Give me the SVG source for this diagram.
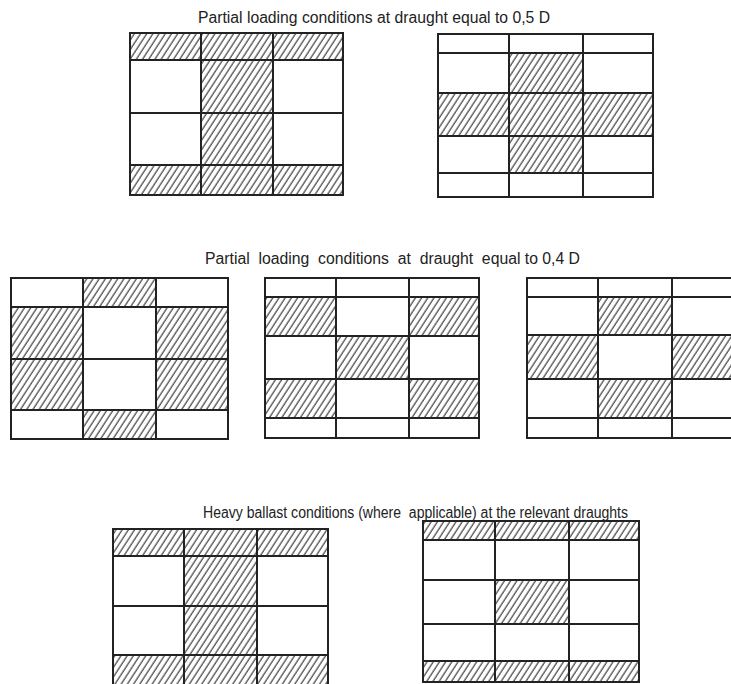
<svg xmlns="http://www.w3.org/2000/svg" width="731" height="684" viewBox="0 0 731 684">
<style>
.c{fill:#fff;stroke:#222;stroke-width:2}
.h{fill:url(#hatch);stroke:#222;stroke-width:2}
.t{font-family:"Liberation Sans",Arial,sans-serif;font-size:16px;fill:#222}
</style>
<defs>
<pattern id="hatch" patternUnits="userSpaceOnUse" width="5.2" height="10" patternTransform="rotate(33)">
<rect width="5.2" height="10" fill="#fff"/>
<line x1="1" y1="0" x2="1" y2="10" stroke="#1a1a1a" stroke-width="1"/>
</pattern>
</defs>
<rect width="731" height="684" fill="#fff"/>
<text class="t" x="198" y="23" textLength="352" lengthAdjust="spacingAndGlyphs">Partial loading conditions at draught equal to 0,5 D</text>
<text class="t" x="205" y="264" textLength="375" lengthAdjust="spacingAndGlyphs" xml:space="preserve">Partial  loading  conditions  at  draught  equal to 0,4 D</text>
<text class="t" x="203" y="518" textLength="425" lengthAdjust="spacingAndGlyphs" xml:space="preserve">Heavy ballast conditions (where  applicable) at the relevant draughts</text>
<g id="grid1">
<rect class="h" x="130" y="33" width="71" height="27"/><rect class="h" x="201" y="33" width="72" height="27"/><rect class="h" x="273" y="33" width="70" height="27"/>
<rect class="c" x="130" y="60" width="71" height="53"/><rect class="h" x="201" y="60" width="72" height="53"/><rect class="c" x="273" y="60" width="70" height="53"/>
<rect class="c" x="130" y="113" width="71" height="52"/><rect class="h" x="201" y="113" width="72" height="52"/><rect class="c" x="273" y="113" width="70" height="52"/>
<rect class="h" x="130" y="165" width="71" height="30"/><rect class="h" x="201" y="165" width="72" height="30"/><rect class="h" x="273" y="165" width="70" height="30"/>
</g>
<g id="grid2">
<rect class="c" x="438" y="34" width="71" height="19"/><rect class="c" x="509" y="34" width="74" height="19"/><rect class="c" x="583" y="34" width="70" height="19"/>
<rect class="c" x="438" y="53" width="71" height="40"/><rect class="h" x="509" y="53" width="74" height="40"/><rect class="c" x="583" y="53" width="70" height="40"/>
<rect class="h" x="438" y="93" width="71" height="43"/><rect class="h" x="509" y="93" width="74" height="43"/><rect class="h" x="583" y="93" width="70" height="43"/>
<rect class="c" x="438" y="136" width="71" height="37"/><rect class="h" x="509" y="136" width="74" height="37"/><rect class="c" x="583" y="136" width="70" height="37"/>
<rect class="c" x="438" y="173" width="71" height="24"/><rect class="c" x="509" y="173" width="74" height="24"/><rect class="c" x="583" y="173" width="70" height="24"/>
</g>
<g id="grid3">
<rect class="c" x="11" y="278" width="72" height="29"/><rect class="h" x="83" y="278" width="73" height="29"/><rect class="c" x="156" y="278" width="72" height="29"/>
<rect class="h" x="11" y="307" width="72" height="52"/><rect class="c" x="83" y="307" width="73" height="52"/><rect class="h" x="156" y="307" width="72" height="52"/>
<rect class="h" x="11" y="359" width="72" height="51"/><rect class="c" x="83" y="359" width="73" height="51"/><rect class="h" x="156" y="359" width="72" height="51"/>
<rect class="c" x="11" y="410" width="72" height="29"/><rect class="h" x="83" y="410" width="73" height="29"/><rect class="c" x="156" y="410" width="72" height="29"/>
</g>
<g id="grid4">
<rect class="c" x="265" y="278" width="71" height="19"/><rect class="c" x="336" y="278" width="73" height="19"/><rect class="c" x="409" y="278" width="70" height="19"/>
<rect class="h" x="265" y="297" width="71" height="39"/><rect class="c" x="336" y="297" width="73" height="39"/><rect class="h" x="409" y="297" width="70" height="39"/>
<rect class="c" x="265" y="336" width="71" height="43"/><rect class="h" x="336" y="336" width="73" height="43"/><rect class="c" x="409" y="336" width="70" height="43"/>
<rect class="h" x="265" y="379" width="71" height="39"/><rect class="c" x="336" y="379" width="73" height="39"/><rect class="h" x="409" y="379" width="70" height="39"/>
<rect class="c" x="265" y="418" width="71" height="20"/><rect class="c" x="336" y="418" width="73" height="20"/><rect class="c" x="409" y="418" width="70" height="20"/>
</g>
<g id="grid5">
<rect class="c" x="527" y="278" width="71" height="19"/><rect class="c" x="598" y="278" width="74" height="19"/><rect class="c" x="672" y="278" width="80" height="19"/>
<rect class="c" x="527" y="297" width="71" height="38"/><rect class="h" x="598" y="297" width="74" height="38"/><rect class="c" x="672" y="297" width="80" height="38"/>
<rect class="h" x="527" y="335" width="71" height="44"/><rect class="c" x="598" y="335" width="74" height="44"/><rect class="h" x="672" y="335" width="80" height="44"/>
<rect class="c" x="527" y="379" width="71" height="39"/><rect class="h" x="598" y="379" width="74" height="39"/><rect class="c" x="672" y="379" width="80" height="39"/>
<rect class="c" x="527" y="418" width="71" height="20"/><rect class="c" x="598" y="418" width="74" height="20"/><rect class="c" x="672" y="418" width="80" height="20"/>
</g>
<g id="grid6">
<rect class="h" x="113" y="529" width="71" height="27"/><rect class="h" x="184" y="529" width="73" height="27"/><rect class="h" x="257" y="529" width="71" height="27"/>
<rect class="c" x="113" y="556" width="71" height="50"/><rect class="h" x="184" y="556" width="73" height="50"/><rect class="c" x="257" y="556" width="71" height="50"/>
<rect class="c" x="113" y="606" width="71" height="49"/><rect class="h" x="184" y="606" width="73" height="49"/><rect class="c" x="257" y="606" width="71" height="49"/>
<rect class="h" x="113" y="655" width="71" height="32"/><rect class="h" x="184" y="655" width="73" height="32"/><rect class="h" x="257" y="655" width="71" height="32"/>
</g>
<g id="grid7">
<rect class="h" x="423" y="521" width="72" height="19"/><rect class="h" x="495" y="521" width="74" height="19"/><rect class="h" x="569" y="521" width="70" height="19"/>
<rect class="c" x="423" y="540" width="72" height="40"/><rect class="c" x="495" y="540" width="74" height="40"/><rect class="c" x="569" y="540" width="70" height="40"/>
<rect class="c" x="423" y="580" width="72" height="44"/><rect class="h" x="495" y="580" width="74" height="44"/><rect class="c" x="569" y="580" width="70" height="44"/>
<rect class="c" x="423" y="624" width="72" height="37"/><rect class="c" x="495" y="624" width="74" height="37"/><rect class="c" x="569" y="624" width="70" height="37"/>
<rect class="h" x="423" y="661" width="72" height="21"/><rect class="h" x="495" y="661" width="74" height="21"/><rect class="h" x="569" y="661" width="70" height="21"/>
</g>
</svg>
